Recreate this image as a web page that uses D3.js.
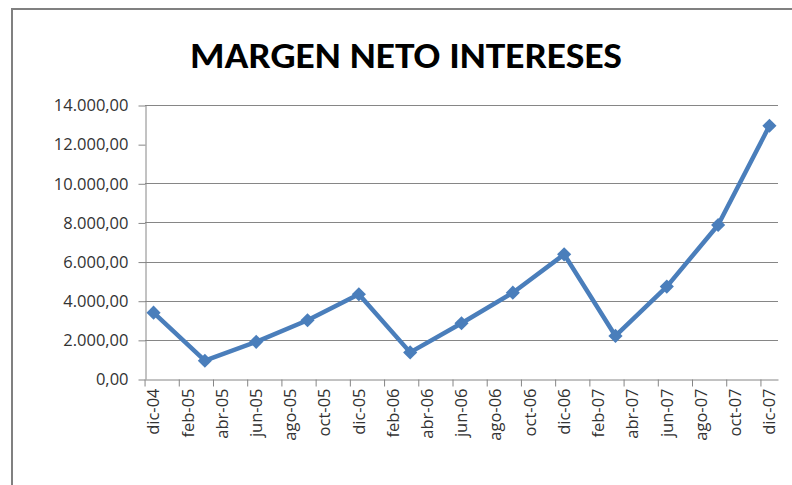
<!DOCTYPE html>
<html>
<head>
<meta charset="utf-8">
<script src="https://cdn.jsdelivr.net/npm/d3@7"></script>
<style>
  html, body { margin: 0; padding: 0; background: #fff; }
  svg { display: block; font-family: Carlito, Calibri, "Open Sans", sans-serif; }
</style>
</head>
<body>
<div id="chart"></div>
<script>
// Quarterly values
const periods = ['dic-04', 'mar-05', 'jun-05', 'sep-05', 'dic-05', 'mar-06', 'jun-06',
    'sep-06', 'dic-06', 'mar-07', 'jun-07', 'sep-07', 'dic-07'];
const values = [3390, 935, 1900, 3000, 4330, 1360, 2850, 4410, 6370, 2200, 4720, 7870, 12940];

// Axis labels, every 2 months
const tickLabels = ['dic-04', 'feb-05', 'abr-05', 'jun-05', 'ago-05', 'oct-05', 'dic-05',
    'feb-06', 'abr-06', 'jun-06', 'ago-06', 'oct-06', 'dic-06', 'feb-07', 'abr-07',
    'jun-07', 'ago-07', 'oct-07', 'dic-07'];
const yTicks = [0, 2000, 4000, 6000, 8000, 10000, 12000, 14000];

const title = 'MARGEN NETO INTERESES';

const width = 792, height = 485;
const margin = { top: 105, right: 14, bottom: 106, left: 145 };

const mes = ['ene', 'feb', 'mar', 'abr', 'may', 'jun', 'jul', 'ago', 'sep', 'oct', 'nov', 'dic'];
const monthKey = d => mes[d.getMonth()] + '-' + String(d.getFullYear()).slice(2);
// one band per month, dic-04 .. dic-07
const months = d3.timeMonth.range(new Date(2004, 11, 1), new Date(2008, 0, 1)).map(monthKey);

const esLocale = d3.formatLocale({ decimal: ',', thousands: '.', grouping: [3], currency: ['', ''] });
const fmt = esLocale.format(',.2f');

const gridColor = '#868686';
const textColor = '#333';
const lineColor = '#4A7EBB';
const labelFont = '"Open Sans", sans-serif';

const svg = d3.select('#chart')
    .append('svg')
    .attr('width', width)
    .attr('height', height);

// chart frame
svg.append('rect')
    .attr('x', 12)
    .attr('y', 9)
    .attr('width', width + 20)
    .attr('height', height + 20)
    .attr('fill', '#fff')
    .attr('stroke', '#808080')
    .attr('stroke-width', 2);

// Title
svg.append('text')
    .attr('x', 406)
    .attr('y', 68)
    .attr('text-anchor', 'middle')
    .attr('textLength', 432)
    .attr('lengthAdjust', 'spacingAndGlyphs')
    .attr('fill', '#000')
    .style('font-size', '37px')
    .style('font-weight', 'bold')
    .text(title);

const x = d3.scaleBand()
    .domain(months)
    .range([margin.left, width - margin.right])
    .padding(0);

const y = d3.scaleLinear()
    .domain([0, 14000])
    .range([height - margin.bottom, margin.top]);

const bw = x.bandwidth();

// Gridlines (the 12.000 line is not drawn in the original)
svg.append('g')
    .selectAll('line')
    .data(yTicks.filter(v => v !== 0 && v !== 12000))
    .join('line')
    .attr('x1', margin.left)
    .attr('x2', width - margin.right)
    .attr('y1', d => Math.round(y(d)) + 0.5)
    .attr('y2', d => Math.round(y(d)) + 0.5)
    .attr('stroke', gridColor)
    .attr('stroke-width', 1);

// Y axis
const yAxis = svg.append('g')
    .attr('transform', `translate(${margin.left + 0.5},0)`)
    .call(d3.axisLeft(y).tickValues(yTicks).tickFormat(fmt).tickSize(7).tickSizeOuter(0));

yAxis.select('.domain').attr('stroke', gridColor);
yAxis.selectAll('.tick line').attr('stroke', gridColor).attr('transform', 'translate(0,0.5)');
yAxis.selectAll('.tick text')
    .attr('x', -17)
    .attr('dy', '0.35em')
    .attr('fill', textColor)
    .style('font-size', '16.5px')
    .style('font-family', labelFont);

// X axis
const xAxis = svg.append('g')
    .attr('transform', `translate(0,${Math.round(y(0)) + 0.5})`)
    .call(d3.axisBottom(x).tickValues(tickLabels).tickSize(7).tickSizeOuter(0));

xAxis.select('.domain').attr('stroke', gridColor);
// tick marks sit on the band edges, labels on band centres
xAxis.selectAll('.tick line')
    .attr('stroke', gridColor)
    .attr('x1', Math.round(-bw / 2) + 0.5)
    .attr('x2', Math.round(-bw / 2) + 0.5);
xAxis.selectAll('.tick text')
    .attr('fill', textColor)
    .style('font-size', '16.5px')
    .style('font-family', labelFont)
    .attr('text-anchor', 'end')
    .attr('transform', 'rotate(-90)')
    .attr('x', -9)
    .attr('y', 0)
    .attr('dy', '0.35em');

// Series line
const pts = periods.map((p, i) => ({ p, v: values[i] }));

const line = d3.line()
    .x(d => x(d.p) + bw / 2)
    .y(d => y(d.v));

svg.append('path')
    .datum(pts)
    .attr('d', line)
    .attr('fill', 'none')
    .attr('stroke', lineColor)
    .attr('stroke-width', 4.5)
    .attr('stroke-linejoin', 'round');

// Diamond markers
svg.append('g')
    .selectAll('path')
    .data(pts)
    .join('path')
    .attr('d', d3.symbol(d3.symbolSquare, 100))
    .attr('transform', d => `translate(${x(d.p) + bw / 2},${y(d.v)}) rotate(45)`)
    .attr('fill', lineColor)
    .append('title')
    .text(d => `${d.p}: ${fmt(d.v)}`);
</script>
</body>
</html>
